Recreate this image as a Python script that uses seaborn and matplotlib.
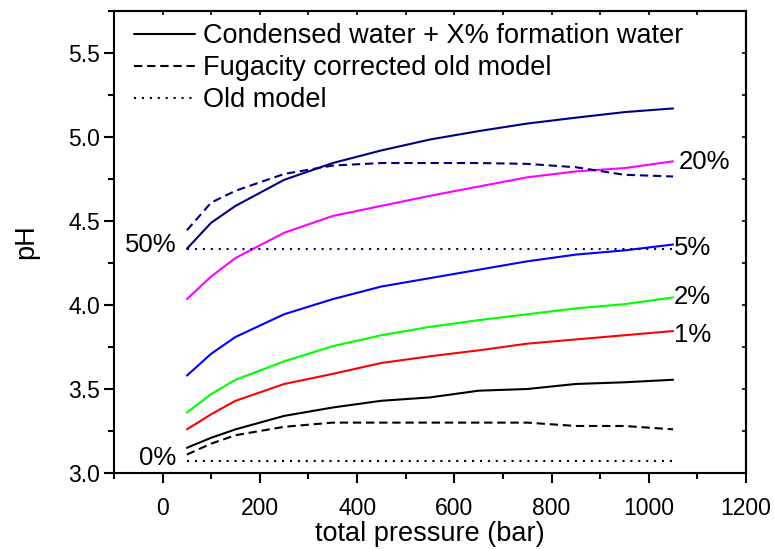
import matplotlib
matplotlib.use("Agg")
import matplotlib.pyplot as plt
import seaborn as sns
import numpy as np
import pandas as pd
from matplotlib.lines import Line2D
from matplotlib.ticker import MultipleLocator, FormatStrFormatter

# total pressure (bar) at which each model was evaluated
pressure = [50, 100, 150, 250, 350, 450, 550, 650, 750, 850, 950, 1050]

# pH of condensed water mixed with X% formation water
ph_0 = [3.15, 3.21, 3.26, 3.34, 3.39, 3.43, 3.45, 3.49, 3.50, 3.53, 3.54, 3.555]
ph_1 = [3.26, 3.35, 3.43, 3.53, 3.59, 3.655, 3.695, 3.73, 3.77, 3.795, 3.82, 3.845]
ph_2 = [3.36, 3.47, 3.555, 3.665, 3.755, 3.82, 3.87, 3.91, 3.945, 3.98, 4.005, 4.045]
ph_5 = [3.58, 3.71, 3.81, 3.945, 4.035, 4.11, 4.16, 4.21, 4.26, 4.30, 4.325, 4.36]
ph_20 = [4.035, 4.17, 4.28, 4.43, 4.53, 4.59, 4.65, 4.705, 4.76, 4.795, 4.815, 4.855]
ph_50 = [4.335, 4.49, 4.59, 4.745, 4.845, 4.92, 4.985, 5.035, 5.08, 5.115, 5.148, 5.17]

# fugacity corrected old model (0% and 50%)
fug_0 = [3.11, 3.175, 3.225, 3.275, 3.30, 3.30, 3.30, 3.30, 3.30, 3.28, 3.28, 3.26]
fug_50 = [4.445, 4.61, 4.68, 4.78, 4.83, 4.845, 4.845, 4.845, 4.84, 4.82, 4.775, 4.765]

# old model (pressure independent)
old_0 = 3.07
old_50 = 4.335

sns.set_theme(style="ticks")
plt.rcParams["font.family"] = ["Liberation Sans", "DejaVu Sans"]
plt.rcParams.update({
    "text.color": "black",
    "axes.labelcolor": "black",
    "xtick.color": "black",
    "ytick.color": "black",
    "axes.edgecolor": "black",
})

fig = plt.figure(figsize=(7.74, 5.49), dpi=100)
ax = fig.add_axes([0.1473, 0.1384, 0.8165, 0.8416])

lw = 1.5
dash = (4, 2.3)
dot = (1, 2.8)

solid_series = [
    (ph_0, "black"), (ph_1, "#ff0000"), (ph_2, "#00ff00"),
    (ph_5, "#0000ff"), (ph_20, "#ff00ff"), (ph_50, "#000080"),
]
for vals, col in solid_series:
    sns.lineplot(x=pressure, y=vals, color=col, lw=lw, ax=ax)

sns.lineplot(x=pressure, y=fug_0, color="black", lw=lw, ax=ax).lines[-1].set_dashes(dash)
sns.lineplot(x=pressure, y=fug_50, color="#000080", lw=lw, ax=ax).lines[-1].set_dashes(dash)

old_x = [pressure[0], pressure[-1]]
sns.lineplot(x=old_x, y=[old_0, old_0], color="black", lw=lw, ax=ax).lines[-1].set_dashes(dot)
sns.lineplot(x=old_x, y=[old_50, old_50], color="#000080", lw=lw, ax=ax).lines[-1].set_dashes(dot)

# curve labels
lab_fs = 18.5
ax.text(28, 4.36, "50%", ha="right", va="center", fontsize=lab_fs)
ax.text(28, 3.09, "0%", ha="right", va="center", fontsize=lab_fs)
ax.text(1062, 4.85, "20%", ha="left", va="center", fontsize=lab_fs)
ax.text(1052, 4.34, "5%", ha="left", va="center", fontsize=lab_fs)
ax.text(1052, 4.045, "2%", ha="left", va="center", fontsize=lab_fs)
ax.text(1052, 3.82, "1%", ha="left", va="center", fontsize=lab_fs)

ax.set_xlim(-100, 1200)
ax.set_ylim(3.0, 5.75)
ax.xaxis.set_major_locator(MultipleLocator(200))
ax.xaxis.set_minor_locator(MultipleLocator(100))
ax.yaxis.set_major_locator(MultipleLocator(0.5))
ax.yaxis.set_minor_locator(MultipleLocator(0.25))
ax.yaxis.set_major_formatter(FormatStrFormatter("%.1f"))

for sp in ax.spines.values():
    sp.set_linewidth(1.5)
    sp.set_color("black")
    sp.set_visible(True)

ax.tick_params(which="major", direction="out", length=7, width=1.5, labelsize=16.5, color="black", pad=3)
ax.tick_params(which="minor", direction="out", length=4, width=1.5, color="black")
ax.tick_params(axis="x", which="major", pad=10)

# short inward ticks on the top and right frame
top = ax.secondary_xaxis("top")
top.xaxis.set_major_locator(MultipleLocator(100))
top.tick_params(direction="in", length=3, width=1.2, labeltop=False, color="black")
top.spines["top"].set_linewidth(1.5)
right = ax.secondary_yaxis("right")
right.yaxis.set_major_locator(MultipleLocator(0.25))
right.tick_params(direction="in", length=3, width=1.2, labelright=False, color="black")
right.spines["right"].set_linewidth(1.5)

ax.set_xlabel("total pressure (bar)", fontsize=19.5, labelpad=1)
ax.set_ylabel("pH", fontsize=19.5, labelpad=21)

handles = [
    Line2D([], [], color="black", lw=lw),
    Line2D([], [], color="black", lw=lw, dashes=dash),
    Line2D([], [], color="black", lw=lw, dashes=dot),
]
labels = ["Condensed water + X% formation water",
          "Fugacity corrected old model",
          "Old model"]
ax.legend(handles, labels, loc="upper left", frameon=False, fontsize=19.5,
          handlelength=2.25, handletextpad=0.3, labelspacing=0.22,
          borderpad=0.45, borderaxespad=0.0, bbox_to_anchor=(0.012, 1.0))

fig.savefig("out.png", dpi=100)
